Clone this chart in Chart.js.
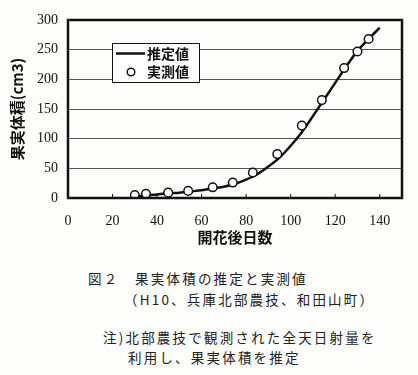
<!DOCTYPE html>
<html>
<head>
<meta charset="utf-8">
<script src="https://cdn.jsdelivr.net/npm/chart.js@4.4.0/dist/chart.umd.min.js"></script>
<style>
  body { margin: 0; background: #fdfdfb; width: 418px; height: 375px; overflow: hidden; position: relative; }
  #wrap { position: absolute; left: 0; top: 0; width: 418px; height: 250px; }
  .cap { position: absolute; font-family: "Noto Sans CJK JP", sans-serif; font-size: 13.5px; letter-spacing: 2.2px; color: #222; white-space: nowrap; line-height: 16px; }
</style>
</head>
<body>
<div id="wrap"><canvas id="myChart"></canvas></div>
<div class="cap" style="left:88px; top:270px;">図２　果実体積の推定と実測値</div>
<div class="cap" style="left:124px; top:291px;">（H10、兵庫北部農技、和田山町）</div>
<div class="cap" style="left:103px; top:329px;">注)北部農技で観測された全天日射量を</div>
<div class="cap" style="left:128px; top:349px;">利用し、果実体積を推定</div>
<script>
// 推定値 (line)
const estDays = [30, 35, 40, 45, 50, 55, 60, 65, 70, 75, 80, 85, 90, 95, 100, 105, 110, 115, 120, 125, 130, 135, 140];
const estVolume = [3, 4, 6, 8, 9, 11, 13, 16, 19, 24, 31, 40, 53, 68, 88, 111, 138, 166, 194, 222, 248, 268, 287];
// 実測値 (circles)
const obsDays = [30, 35, 45, 54, 65, 74, 83, 94, 105, 114, 124, 130, 135];
const obsVolume = [5, 7, 9, 12, 18, 26, 43, 74, 122, 165, 219, 247, 268];

const xTicks = [0, 20, 40, 60, 80, 100, 120, 140];
const yTicks = [0, 50, 100, 150, 200, 250, 300];

const tickFont = { family: "Liberation Serif", size: 14 };

function toPoints(xs, ys) {
  return xs.map((x, i) => ({ x: x, y: ys[i] }));
}

// frame, inward x ticks, legend box
const framePlugin = {
  id: "frame",
  afterDraw(chart) {
    const c = chart.ctx;
    const a = chart.chartArea;
    const xs = chart.scales.x;
    c.save();
    c.strokeStyle = "#111";
    c.lineWidth = 1;
    xTicks.forEach((v) => {
      let px = xs.getPixelForValue(v);
      c.beginPath();
      c.moveTo(px, a.bottom);
      c.lineTo(px, a.bottom - 4);
      c.stroke();
    });
    c.lineWidth = 2.5;
    c.strokeRect(a.left, a.top, a.right - a.left, a.bottom - a.top);

    // legend
    let lx = 112, ly = 43, lw = 87, lh = 39;
    c.fillStyle = "#fff";
    c.fillRect(lx, ly, lw, lh);
    c.lineWidth = 1;
    c.strokeRect(lx + 0.5, ly + 0.5, lw, lh);
    c.lineWidth = 2.5;
    c.beginPath();
    c.moveTo(116, 53.5);
    c.lineTo(145, 53.5);
    c.stroke();
    c.lineWidth = 1.5;
    c.beginPath();
    c.arc(131, 72, 3.8, 0, Math.PI * 2);
    c.fillStyle = "#fff";
    c.fill();
    c.stroke();
    c.fillStyle = "#111";
    c.font = "bold 14px 'Noto Sans CJK JP'";
    c.textBaseline = "middle";
    c.fillText(chart.data.datasets[0].label, 147, 54);
    c.fillText(chart.data.datasets[1].label, 147, 72);
    c.restore();
  },
};

let ctx = document.getElementById("myChart").getContext("2d");
let myChart = new Chart(ctx, {
  type: "scatter",
  data: {
    datasets: [
      {
        label: "推定値",
        data: toPoints(estDays, estVolume),
        showLine: true,
        borderColor: "#111",
        borderWidth: 2.5,
        pointRadius: 0,
        tension: 0.3,
        order: 2,
      },
      {
        label: "実測値",
        data: toPoints(obsDays, obsVolume),
        pointRadius: 4.3,
        pointBackgroundColor: "#fff",
        pointBorderColor: "#111",
        pointBorderWidth: 1.5,
        order: 1,
      },
    ],
  },
  options: {
    responsive: true,
    maintainAspectRatio: false,
    animation: false,
    layout: { padding: { top: 20, right: 16, left: 8, bottom: 0 } },
    plugins: { legend: { display: false }, tooltip: { enabled: false } },
    scales: {
      x: {
        type: "linear",
        min: 0,
        max: 150,
        afterBuildTicks: (s) => { s.ticks = xTicks.map((v) => ({ value: v })); },
        afterFit: (s) => { s.height = 52; },
        grid: { display: false },
        border: { display: false },
        ticks: { color: "#111", font: tickFont, padding: 7, maxRotation: 0 },
        title: {
          display: true,
          text: "開花後日数",
          color: "#111",
          font: { family: "Noto Sans CJK JP", size: 15, weight: "bold" },
          padding: { top: 4 },
        },
      },
      y: {
        min: 0,
        max: 300,
        afterBuildTicks: (s) => { s.ticks = yTicks.map((v) => ({ value: v })); },
        afterFit: (s) => { s.width = 60; },
        grid: { color: "#555", lineWidth: 1, drawTicks: false },
        border: { display: false },
        ticks: { color: "#111", font: tickFont, padding: 10 },
        title: {
          display: true,
          text: "果実体積(cm3)",
          color: "#111",
          font: { family: "Noto Sans CJK JP", size: 15, weight: "bold" },
          padding: { top: 0, bottom: 0 },
        },
      },
    },
  },
  plugins: [framePlugin],
});
</script>
</body>
</html>
